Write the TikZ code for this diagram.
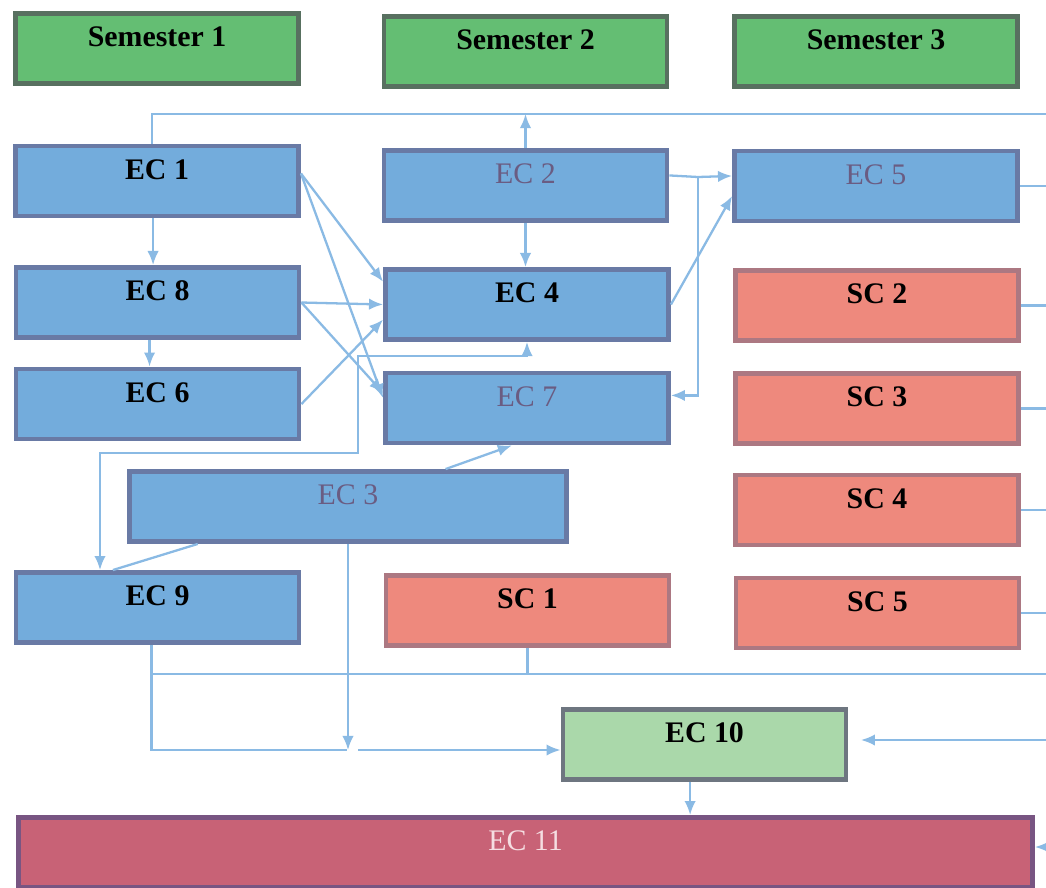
\documentclass[tikz,border=0pt]{standalone}
\usepackage{fontspec}
\setmainfont{Liberation Serif}
\usetikzlibrary{arrows.meta}

\definecolor{semfill}{RGB}{100,190,115}
\definecolor{semline}{RGB}{88,112,96}
\definecolor{ecfill}{RGB}{115,172,220}
\definecolor{ecline}{RGB}{105,122,165}
\definecolor{scfill}{RGB}{238,137,125}
\definecolor{scline}{RGB}{172,120,130}
\definecolor{finfill}{RGB}{170,216,170}
\definecolor{finline}{RGB}{110,118,128}
\definecolor{capfill}{RGB}{200,98,118}
\definecolor{capline}{RGB}{120,85,130}
\definecolor{greytext}{RGB}{106,92,130}
\definecolor{captext}{RGB}{245,222,226}
\definecolor{linkblue}{RGB}{138,186,228}

\begin{document}
\begin{tikzpicture}[x=0.02cm,y=-0.02cm,>={Latex[length=8pt,width=6.5pt]},
    box/.style={shape=rectangle,draw,line width=2.8pt,inner sep=0pt,
      minimum width=5.66cm,text height=0.66cm,text depth=0.74cm,
      font=\fontsize{17}{20}\selectfont},
    bold/.style={font=\fontsize{17}{20}\selectfont\bfseries},
    sem/.style={box,bold,fill=semfill,draw=semline},
    ec/.style={box,fill=ecfill,draw=ecline},
    sc/.style={box,bold,fill=scfill,draw=scline},
    link/.style={draw=linkblue,line width=1.3pt}]

      \useasboundingbox[fill=white] (0,0) rectangle (1046,887);

      \path node (sem1) at (157,48.5) [sem] {Semester 1};
      \path node (sem2) at (525.5,51.5) [sem] {Semester 2};
      \path node (sem3) at (876,51.5) [sem] {Semester 3};

      \path node (ec1) at (157,181) [ec,bold] {EC 1};
      \path node (ec2) at (525.5,185.5) [ec,text=greytext] {EC 2};
      \path node (ec5) at (876,186) [ec,text=greytext] {EC 5};

      \path node (ec8) at (157.5,302.5) [ec,bold] {EC 8};
      \path node (ec4) at (527,304.5) [ec,bold] {EC 4};
      \path node (sc2) at (877,305.5) [sc] {SC 2};

      \path node (ec6) at (157.5,404) [ec,bold] {EC 6};
      \path node (ec7) at (527,408) [ec,text=greytext] {EC 7};
      \path node (sc3) at (877,408.5) [sc] {SC 3};

      \path node (ec3) at (348,506.5) [ec,text=greytext,minimum width=8.74cm] {EC 3};
      \path node (sc4) at (877,510) [sc] {SC 4};

      \path node (ec9) at (157.5,607.5) [ec,bold] {EC 9};
      \path node (sc1) at (527.5,610.5) [sc] {SC 1};
      \path node (sc5) at (877.5,613) [sc] {SC 5};

      \path node (ec10) at (704.5,744.5) [box,bold,fill=finfill,draw=finline] {EC 10};

      \path node (ec11) at (525.5,852.5)
            [box,fill=capfill,draw=capline,text=captext,minimum width=20.28cm] {EC 11};

      \coordinate (topr) at (1046,114);
      \coordinate (botr) at (1046,674);
      \coordinate (lpa) at (100,453);
      \coordinate (lpb) at (358,356);
      \coordinate (mid) at (347,750);
      \coordinate (midr) at (358,750);
      \coordinate (j25) at (698,177);
      \coordinate (in10) at (1046,740);
      \coordinate (in11) at (1046,847);

      \draw[link] (ec1.98) |- (topr);
      \draw[link,->] (ec2.north) -- (ec2.north |- topr);

      \draw[link,->] (ec1.264) -- (ec1.264 |- ec8.north);
      \draw[link,->] (ec8.258) -- (ec8.258 |- ec6.north);
      \draw[link,->] (ec2.south) -- (ec2.south |- ec4.north);

      \draw[link,->] (ec2.4) -- (j25) -- (ec5.176);
      \draw[link,->] (j25) |- (ec7.5);
      \draw[link,->] (ec4.east) -- (ec5.184);

      \draw[link,->] (ec1.3) -- (ec4.171);
      \draw[link,->] (ec1.3) -- (ec7.176);
      \draw[link,->] (ec8.east) -- (ec4.west);
      \draw[link,->] (ec8.east) -- (ec7.174);
      \draw[link,->] (ec6.east) -- (ec4.186);

      \draw[link,<->] (ec9.north -| lpa) -- (lpa) -| (lpb) -| (ec4.south);

      \draw[link,->] (ec3.21) -- (ec7.248);
      \draw[link] (ec3.194) -- (ec9.140);

      \draw[link,->] (ec3.south) -- (ec3.south |- mid);
      \draw[link] (ec9.261) |- (mid);
      \draw[link,->] (midr) -- (midr -| ec10.west);

      \draw[link] (ec9.261 |- botr) -- (botr);
      \draw[link] (sc1.south) -- (sc1.south |- botr);

      \foreach \n in {ec5,sc2,sc3,sc4,sc5}
        \draw[link] (\n.east) -- (\n.east -| topr);

      \draw[link,->,shorten >=0.25cm] (in10) -- (in10 -| ec10.east);
      \draw[link,->] (ec10.249) -- (ec10.249 |- ec11.north);
      \draw[link,->] (in11) -- (in11 -| ec11.east);
    \end{tikzpicture}
\end{document}
